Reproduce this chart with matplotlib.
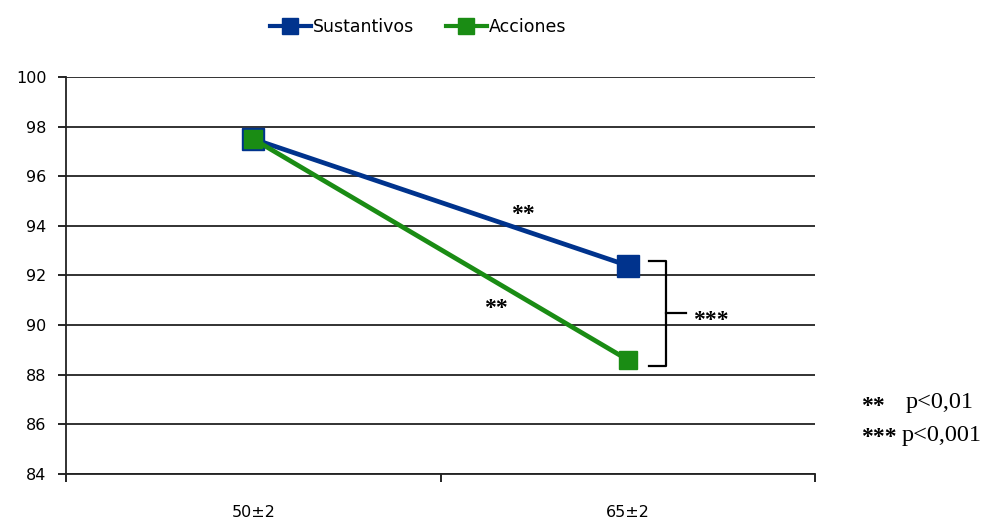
import matplotlib
matplotlib.use("Agg")
import matplotlib.pyplot as plt

# data
groups = ["50±2", "65±2"]
sustantivos = [97.5, 92.4]
acciones = [97.5, 88.6]
yticks = [84, 86, 88, 90, 92, 94, 96, 98, 100]

blue = "#00338d"
green = "#1a8c14"

plt.rcParams["font.family"] = "DejaVu Sans"

fig = plt.figure(figsize=(9.96, 5.22), dpi=100)
ax = fig.add_axes([0.0663, 0.092, 0.752, 0.7605])

x = list(range(len(groups)))
ax.plot(x, sustantivos, color=blue, lw=3.4, marker="s", ms=16, label="Sustantivos", zorder=4)
ax.plot(x, acciones, color=green, lw=3.4, marker="s", ms=13, label="Acciones", zorder=5)

ax.set_xlim(-0.5, 1.5)
ax.set_ylim(84, 100)
ax.set_yticks(yticks)
ax.set_xticks(x)
ax.set_xticklabels(groups)
ax.set_xticks([-0.5, 0.5, 1.5], minor=True)
ax.tick_params(axis="x", which="major", length=0, pad=22, labelsize=11.5)
ax.tick_params(axis="x", which="minor", length=6, width=1.2, direction="out")
ax.tick_params(axis="y", length=6, width=1.2, direction="out", labelsize=11.5, pad=8)

ax.grid(axis="y", color="#222222", lw=1.3)
ax.set_axisbelow(True)
for s in ["top", "right"]:
    ax.spines[s].set_visible(False)
for s in ["left", "bottom"]:
    ax.spines[s].set_linewidth(1.3)
    ax.spines[s].set_color("#222222")

# significance marks
star_font = dict(fontsize=17, fontfamily="Liberation Serif", fontweight="bold")
ax.text(0.72, 94.45, "**", ha="center", va="center", **star_font)
ax.text(0.647, 90.65, "**", ha="center", va="center", **star_font)
ax.plot([1.056, 1.102, 1.102, 1.056], [sustantivos[1] + 0.2, sustantivos[1] + 0.2, acciones[1] - 0.25, acciones[1] - 0.25],
        color="black", lw=1.6, clip_on=False)
ax.plot([1.102, 1.155], [90.5, 90.5], color="black", lw=1.6, clip_on=False)
ax.text(1.222, 90.2, "***", ha="center", va="center", **star_font)

leg = ax.legend(loc="center", bbox_to_anchor=(0.47, 1.125), ncol=2, frameon=False,
                fontsize=12.5, handlelength=2.4, handletextpad=0.1, columnspacing=1.8)
for h in leg.legend_handles:
    h.set_markersize(12)
    h.set_linewidth(3)

fig.text(0.864, 0.222, "**", fontfamily="Liberation Serif", fontsize=17, fontweight="bold", va="center")
fig.text(0.909, 0.228, "p<0,01", fontsize=17.5, fontfamily="Liberation Serif", va="center")
fig.text(0.864, 0.161, "***", fontfamily="Liberation Serif", fontsize=17, fontweight="bold", va="center")
fig.text(0.905, 0.165, "p<0,001", fontsize=17.5, fontfamily="Liberation Serif", va="center")

fig.savefig("out.png", dpi=100)
